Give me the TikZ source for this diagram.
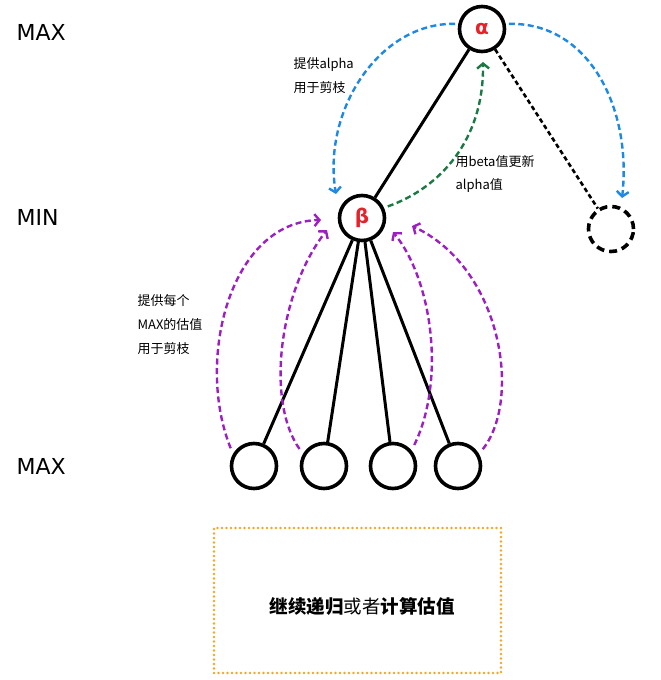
\documentclass[tikz,border=0pt]{standalone}
\usepackage{fontspec}
\usepackage{tikz}
\usetikzlibrary{arrows.meta}
\setmainfont{DejaVu Sans}
\newfontfamily\cjk{Noto Sans CJK SC}
\definecolor{flowblue}{RGB}{30,136,229}
\definecolor{flowgreen}{RGB}{27,122,67}
\definecolor{flowpurple}{RGB}{155,31,193}
\definecolor{boxorange}{RGB}{245,166,35}
\definecolor{valred}{RGB}{232,32,42}

\begin{document}
\begin{tikzpicture}[x=1pt, y=-1pt,
		treenode/.style={circle, draw, line width=3.6pt, minimum size=45pt, inner sep=0pt, text=valred, font=\bfseries\fontsize{20}{20}\selectfont},
		prunednode/.style={treenode, dash pattern=on 8pt off 5pt},
		treeedge/.style={line width=3pt},
		prunededge/.style={line width=2.6pt, dash pattern=on 4.5pt off 3pt},
		flow/.style={line width=2.4pt, dash pattern=on 6pt off 3.5pt, -{Straight Barb[length=5pt, width=12pt]}},
		levellabel/.style={anchor=west, font=\fontsize{22}{22}\selectfont},
		note/.style={anchor=west, align=left, font=\cjk\fontsize{13}{24}\selectfont}]
	\useasboundingbox (0,0) rectangle (661,680);

	% levels
	\node[levellabel] (lmax) at (13,32) {MAX};
	\node[levellabel] (lmin) at (13,217) {MIN};
	\node[levellabel] (lmaxb) at (13,466) {MAX};

	% tree
	\node[treenode] (alpha) at (482,29) {α};
	\node[treenode] (beta) at (362,218) {β};
	\node[prunednode] (pruned) at (611,229) {};
	\foreach \x [count=\i] in {254,324,393,458}
		\node[treenode] (leaf\i) at (\x,466) {};

	\draw[treeedge] (alpha) -- (beta);
	\draw[prunededge] (alpha) -- (pruned);
	\foreach \i in {1,...,4}
		\draw[treeedge] (beta) -- (leaf\i);

	% arrow ends
	\coordinate (bluel) at (336,194);
	\coordinate (bluer) at (622,198);
	\coordinate (greenup) at (483,62);
	\coordinate (p1) at (321,220);
	\coordinate (p2) at (327,230);
	\coordinate (p3) at (393,232);
	\coordinate (p4) at (412,226);

	\draw[flow, flowblue, shorten <=3pt] (alpha.168) .. controls (380,22) and (322,110) .. (bluel);
	\draw[flow, flowblue, shorten <=3pt] (alpha.12) .. controls (590,22) and (632,110) .. (bluer);
	\draw[flow, flowgreen, shorten <=4pt] (beta.25) .. controls (440,188) and (484,140) .. (greenup);

	\draw[flow, flowpurple, shorten <=6pt] (leaf1.150) .. controls (195,360) and (230,222) .. (p1);
	\draw[flow, flowpurple, shorten <=6pt] (leaf2.150) .. controls (265,400) and (280,290) .. (p2);
	\draw[flow, flowpurple, shorten <=6pt] (leaf3.40) .. controls (446,380) and (432,280) .. (p3);
	\draw[flow, flowpurple, shorten <=6pt] (leaf4.30) .. controls (522,400) and (502,268) .. (p4);

	% notes
	\node[note] (nprovide) at (290,76) {提供alpha\\用于剪枝};
	\node[note] (nupdate) at (452,174) {用beta值更新\\alpha值};
	\node[note] (nleaf) at (134,325) {提供每个\\MAX的估值\\用于剪枝};

	% recursion box
	\node[draw=boxorange, line width=2.8pt, line cap=round, dash pattern=on 0pt off 4.5pt, minimum width=287pt, minimum height=145pt] (recurse) at (357.5,600.5) {};
	\node[font=\cjk\fontsize{18.5}{18.5}\selectfont] (recursetext) at (362,606) {\textbf{继续递归}或者\textbf{计算估值}};
\end{tikzpicture}
\end{document}
